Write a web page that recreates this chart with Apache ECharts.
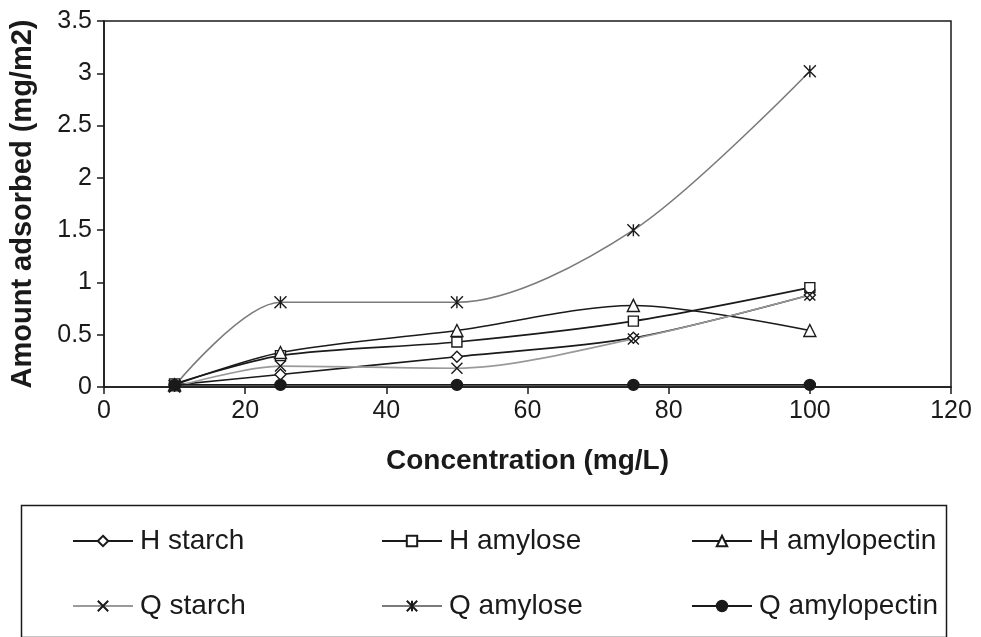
<!DOCTYPE html>
<html>
<head>
<meta charset="utf-8">
<script src="https://cdn.jsdelivr.net/npm/echarts@6/dist/echarts.min.js"></script>
<style>
  html, body { margin: 0; padding: 0; background: #fff; }
  #chart { width: 981px; height: 637px; }
</style>
</head>
<body>
<div id="chart"></div>
<script>
// Concentration (mg/L) at which adsorption was measured
const concentrations = [10, 25, 50, 75, 100];

// Amount adsorbed (mg/m2) per polysaccharide
const hStarch      = [0.02, 0.12, 0.29, 0.47, 0.88];
const hAmylose     = [0.03, 0.30, 0.43, 0.63, 0.95];
const hAmylopectin = [0.02, 0.33, 0.54, 0.78, 0.54];
const qStarch      = [0.00, 0.20, 0.18, 0.46, 0.88];
const qAmylose     = [0.01, 0.81, 0.81, 1.50, 3.02];
const qAmylopectin = [0.02, 0.02, 0.02, 0.02, 0.02];

const seriesNames = ['H starch', 'H amylose', 'H amylopectin', 'Q starch', 'Q amylose', 'Q amylopectin'];

const FONT = '"Liberation Sans", Arial, sans-serif';
const INK = '#1a1a1a';
const GREY = '#9a9a9a';

// stroke-only marker shapes
const crossPath = 'path://M0,0L10,10M10,0L0,10';
const starPath = 'path://M0,0L10,10M10,0L0,10M5,0L5,10';

function pairs(values) {
  return concentrations.map((c, i) => [c, values[i]]);
}

function makeSeries(name, values, lineColor, symbol, size, fill) {
  return {
    name: name,
    type: 'line',
    data: pairs(values),
    smooth: 0.3,
    symbol: symbol,
    symbolSize: size,
    showAllSymbol: true,
    lineStyle: { color: lineColor, width: 1.6 },
    itemStyle: { color: fill, borderColor: INK, borderWidth: 1.4 },
    emphasis: { disabled: true },
    z: 3
  };
}

const series = [
  makeSeries(seriesNames[0], hStarch, INK, 'diamond', 11, '#fff'),
  makeSeries(seriesNames[1], hAmylose, INK, 'rect', 10, '#fff'),
  makeSeries(seriesNames[2], hAmylopectin, INK, 'triangle', 12, '#fff'),
  makeSeries(seriesNames[3], qStarch, GREY, crossPath, 11, INK),
  makeSeries(seriesNames[4], qAmylose, '#7a7a7a', starPath, 12, INK),
  makeSeries(seriesNames[5], qAmylopectin, INK, 'circle', 11, INK)
];

// legend layout: three columns, two rows
const legendCols = [67, 376, 686];
const legendRows = [522, 587];
const legends = seriesNames.map((n, i) => ({
  data: [n],
  left: legendCols[i % 3],
  top: legendRows[Math.floor(i / 3)],
  itemWidth: 60,
  itemHeight: 13,
  itemGap: 0,
  selectedMode: false,
  textStyle: { fontFamily: FONT, fontSize: 28, color: INK, padding: [0, 0, 0, 2] }
}));

const chart = echarts.init(document.getElementById('chart'));
chart.setOption({
  animation: false,
  backgroundColor: '#fff',
  grid: {
    left: 104, right: 30, top: 21, bottom: 250,
    show: true, borderColor: INK, borderWidth: 1.5, backgroundColor: 'transparent'
  },
  xAxis: {
    type: 'value',
    min: 0, max: 120, interval: 20,
    name: 'Concentration (mg/L)',
    nameLocation: 'middle',
    nameGap: 60,
    nameTextStyle: { fontFamily: FONT, fontSize: 28, fontWeight: 'bold', color: INK },
    axisLine: { show: true, lineStyle: { color: INK, width: 1.5 } },
    axisTick: { show: true, length: 7, lineStyle: { color: INK, width: 1.5 } },
    axisLabel: { fontFamily: FONT, fontSize: 25, color: INK, margin: 12 },
    splitLine: { show: false }
  },
  yAxis: {
    type: 'value',
    min: 0, max: 3.5, interval: 0.5,
    name: 'Amount adsorbed (mg/m2)',
    nameLocation: 'middle',
    nameGap: 67,
    nameTextStyle: { fontFamily: FONT, fontSize: 29, fontWeight: 'bold', color: INK },
    axisLine: { show: true, lineStyle: { color: INK, width: 1.5 } },
    axisTick: { show: true, length: 7, lineStyle: { color: INK, width: 1.5 } },
    axisLabel: { fontFamily: FONT, fontSize: 25, color: INK, margin: 12 },
    splitLine: { show: false }
  },
  legend: legends,
  graphic: [{
    type: 'rect',
    left: 19, top: 503,
    shape: { width: 925, height: 132 },
    style: { fill: 'none', stroke: INK, lineWidth: 1.5 },
    silent: true
  }],
  series: series
});
</script>
</body>
</html>
